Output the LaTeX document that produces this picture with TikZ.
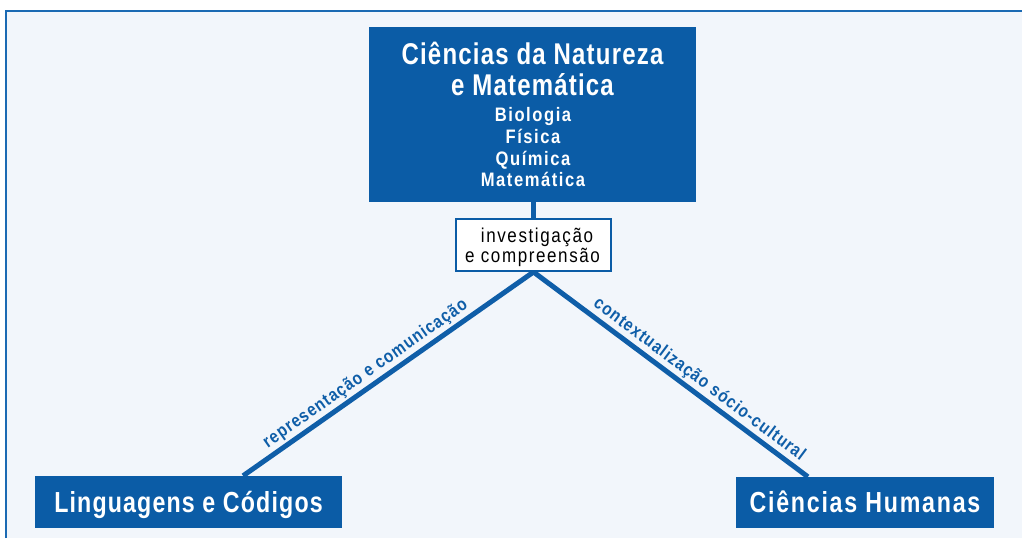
\documentclass[tikz,border=0pt]{standalone}
\usepackage{fontspec}
\setmainfont{Liberation Sans}
\newfontfamily\condfont[FakeStretch=0.8,LetterSpace=4]{Liberation Sans}
\newfontfamily\subcondfont[FakeStretch=0.85,LetterSpace=8]{Liberation Sans}
\newfontfamily\edgecondfont[FakeStretch=0.85,LetterSpace=6]{Liberation Sans}
\usetikzlibrary{calc}
\definecolor{boxblue}{HTML}{0B5CA6}
\definecolor{linkblue}{HTML}{0F5EA8}
\definecolor{bgpanel}{HTML}{F2F6FB}
\definecolor{framebl}{HTML}{1B6AB3}
\pgfdeclarelayer{bg}
\pgfsetlayers{bg,main}
\tikzset{
  bluebox/.style={fill=boxblue, draw=none, inner sep=0pt, text=white},
  midbox/.style={fill=white, draw=boxblue, line width=2pt, inner sep=0pt,
    minimum width=155pt, minimum height=52pt},
  lowbox/.style={bluebox, font=\condfont\bfseries\fontsize{29}{29}\selectfont,
    text height=20.5pt, text depth=0pt},
  titletxt/.style={anchor=base, text=white, inner sep=0pt,
    font=\condfont\bfseries\fontsize{30}{30}\selectfont},
  subtxt/.style={anchor=base, text=white, inner sep=0pt,
    font=\subcondfont\bfseries\fontsize{19.5}{20}\selectfont},
  midtxt/.style={anchor=base, text=black, inner sep=0pt,
    font=\subcondfont\fontsize{20}{20}\selectfont},
  link/.style={draw=linkblue, line width=5pt},
  edgelab/.style={sloped, above=1pt, inner sep=1pt, text=linkblue,
    font=\edgecondfont\bfseries\fontsize{18}{18}\selectfont}
}
\begin{document}
\begin{tikzpicture}[x=1pt,y=-1pt]
\useasboundingbox (0,0) rectangle (1022,538);
\begin{pgfonlayer}{bg}
\fill[bgpanel] (5,10) rectangle (1022,538);
\draw[framebl, line width=2.5pt] (6.2,538) -- (6.2,11.2) -- (1022,11.2);
\end{pgfonlayer}

% top box
\node[bluebox, minimum width=327pt, minimum height=175pt] (nat) at (532.5,114.5) {};
\node[titletxt] (natA) at (532.5,64) {Ciências da Natureza};
\node[titletxt] (natB) at (532.5,95) {e Matemática};
\node[subtxt] (natC) at (533,121.7) {Biologia};
\node[subtxt] (natD) at (533,143) {Física};
\node[subtxt] (natE) at (533,165) {Química};
\node[subtxt] (natF) at (533,186.7) {Matemática};

% middle box
\node[midbox] (mid) at (533.5,245) {};
\node[midtxt] (midA) at (537,242.7) {investigação};
\node[midtxt] (midB) at (532.5,262.7) {e compreensão};

% bottom boxes
\node[lowbox, minimum width=307pt, minimum height=52pt] (lc) at (188.5,502) {Linguagens e Códigos};
\node[lowbox, minimum width=258pt, minimum height=51pt] (ch) at (865,502.5) {\addfontfeature{LetterSpace=6}Ciências Humanas};

% connectors
\begin{pgfonlayer}{bg}
\draw[link] (mid.north) -- (mid.north |- nat.south);
\draw[link] (mid.south) -- node[edgelab, pos=0.553] {representação e comunicação}
  ($(lc.north west)!0.6775!(lc.north east)$);
\draw[link] (mid.south) -- node[edgelab, pos=0.576] {contextualização sócio-cultural}
  ($(ch.north west)!0.279!(ch.north east)$);
\end{pgfonlayer}
\end{tikzpicture}
\end{document}
